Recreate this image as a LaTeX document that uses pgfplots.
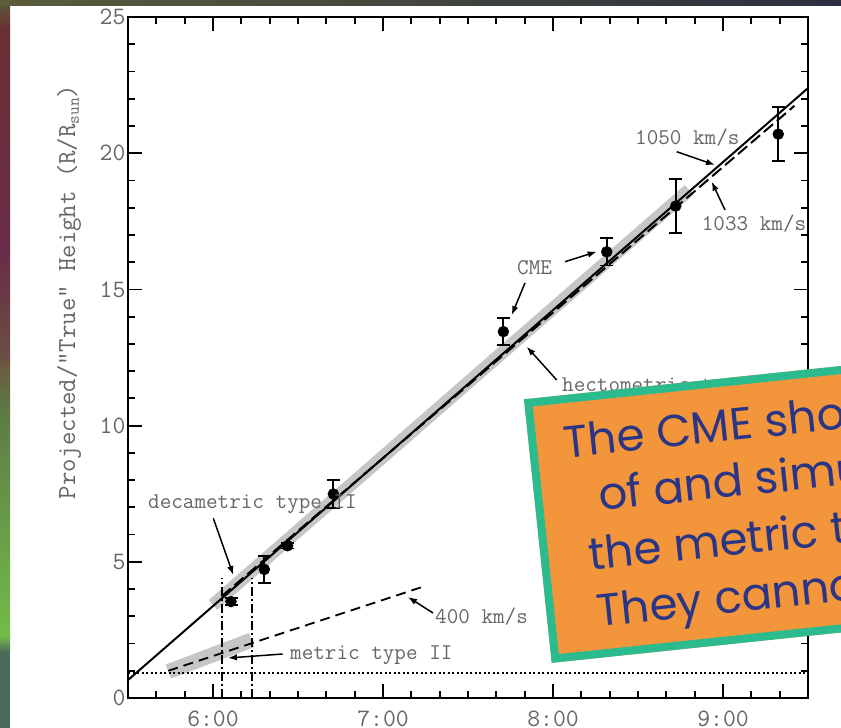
\documentclass[border=0pt]{standalone}
\usepackage{fontspec}
\usepackage{pgfplots}
\pgfplotsset{compat=1.18}
\usetikzlibrary{arrows.meta}
\newfontfamily\boxfont{Poppins}
\newcommand\annfont{\fontsize{22.5bp}{26bp}\selectfont\ttfamily}
\newcommand\tickfont{\fontsize{25bp}{28bp}\selectfont\ttfamily}
\newcommand\ylabfont{\fontsize{26bp}{30bp}\selectfont\ttfamily}
\definecolor{boxorange}{HTML}{F3953A}
\definecolor{boxteal}{HTML}{2BBB8F}
\definecolor{boxtext}{HTML}{2A3586}
\definecolor{bandgray}{HTML}{C6C6C6}
\definecolor{labgray}{HTML}{666666}
\definecolor{sA}{RGB}{92,92,58}
\definecolor{sB}{RGB}{107,48,54}
\definecolor{sC}{RGB}{106,44,72}
\definecolor{sD}{RGB}{106,80,68}
\definecolor{sE}{RGB}{106,88,64}
\definecolor{sF}{RGB}{94,122,69}
\definecolor{sG}{RGB}{114,188,74}
\definecolor{sH}{RGB}{74,106,90}
\definecolor{tA}{RGB}{90,92,60}
\definecolor{tB}{RGB}{46,36,64}
\definecolor{tC}{RGB}{42,48,64}
\begin{document}
\begin{tikzpicture}[x=1bp,y=1bp]
\begin{scope}
\clip (0,0) rectangle (841,-728);
% background
\fill[white] (0,0) rectangle (841,-728);
\shade[top color=sA, bottom color=sB] (0,0) rectangle (10,-28);
\shade[top color=sB, bottom color=sC] (0,-28) rectangle (10,-250);
\shade[top color=sC, bottom color=sD] (0,-250) rectangle (10,-362);
\shade[top color=sE, bottom color=sF] (0,-362) rectangle (10,-410);
\shade[top color=sF, bottom color=sG] (0,-410) rectangle (10,-636);
\shade[top color=sG, bottom color=sH] (0,-636) rectangle (10,-652);
\fill[sH] (0,-652) rectangle (10,-728);
\shade[left color=tA, middle color=tB, right color=tC] (0,0) rectangle (841,-6);

\begin{axis}[
  at={(128bp,-698bp)}, anchor=south west, scale only axis,
  width=680bp, height=681bp,
  xmin=5.5, xmax=9.5, ymin=0, ymax=25,
  xtick={6,7,8,9}, xticklabels={6:00,7:00,8:00,9:00},
  minor xtick={5.6667,5.8333,6.1667,6.3333,6.5,6.6667,6.8333,7.1667,7.3333,7.5,7.6667,7.8333,8.1667,8.3333,8.5,8.6667,8.8333,9.1667,9.3333},
  ytick={0,5,10,15,20,25}, yticklabels={0,5,10,15,20,25},
  minor ytick={1,2,3,4,6,7,8,9,11,12,13,14,16,17,18,19,21,22,23,24},
  major tick length=14bp, minor tick length=7bp,
  axis line style={line width=1.8bp},
  tick style={black, line width=1.8bp},
  ticklabel style={font=\tickfont, text=labgray},
  xticklabel style={yshift=-9bp},
  yticklabel style={xshift=1bp},
]
% gray bands
\addplot[bandgray, line width=13bp, forget plot] coordinates {(6.0,3.42) (8.80,18.65)};
\addplot[bandgray, line width=15bp, forget plot] coordinates {(5.737,0.97) (6.228,2.13)};
% lines
\addplot[black, line width=2bp] coordinates {(5.5,0.66) (9.5,22.39)};
\addplot[black, line width=2bp, dash pattern=on 12bp off 5bp] coordinates {(6.05,3.73) (9.42,21.74)};
\addplot[black, line width=1.8bp, dash pattern=on 10bp off 6bp] coordinates {(5.737,1.0) (7.247,4.11)};
\addplot[black, line width=1.6bp, dash pattern=on 2bp off 2.5bp] coordinates {(5.5,0.92) (9.5,0.92)};
\addplot[black, line width=1.6bp, dash pattern=on 9bp off 3bp on 2bp off 3bp] coordinates {(6.054,0) (6.054,4.4)};
\addplot[black, line width=1.6bp, dash pattern=on 9bp off 3bp on 2bp off 3bp] coordinates {(6.23,0) (6.23,4.4)};
% CME points
\addplot[only marks, mark=*, mark size=5.5bp, black,
  error bars/.cd, y dir=both, y explicit,
  error mark=-,
  error bar style={line width=1.8bp, black},
  error mark options={rotate=90, line width=1.8bp, mark size=6.5bp, black}]
  table[x=x, y=y, y error=e] {
x y e
6.106 3.54 0.12
6.302 4.72 0.49
6.439 5.59 0.10
6.708 7.49 0.50
7.708 13.45 0.50
8.316 16.38 0.50
8.722 18.06 1.00
9.325 20.70 1.00
};
\end{axis}

% y label
\node[rotate=90, anchor=base, inner sep=0, font=\ylabfont, text=labgray] at (75,-292)
  {Projected/"True" Height (R/R\raisebox{-0.35ex}{\fontsize{17bp}{17bp}\selectfont sun})};

% annotations
\tikzset{ann/.style={anchor=base west, inner sep=0, text=labgray, font=\annfont},
         arr/.style={line width=1.5bp, -{Latex[length=9bp,width=6.5bp]}}}
\node[ann] at (148,-508) {decametric type II};
\draw[arr] (213.3,-518.3) -- (233.3,-575);
\node[ann] at (290,-659) {metric type II};
\draw[arr] (282.7,-654) -- (228,-658);
\node[ann] at (435,-623) {400 km/s};
\draw[arr] (433,-613) -- (408,-597);
\node[ann] at (517,-274) {CME};
\draw[arr] (525,-283) -- (511.7,-315);
\draw[arr] (565,-261.7) -- (596.7,-251.7);
\node[ann] at (562,-391) {hectometric type II};
\draw[arr] (556.7,-380) -- (526.7,-346.7);
\node[ann] at (635,-145) {1050 km/s};
\draw[arr] (676.7,-151.7) -- (715,-165);
\node[ann] at (701.7,-230.5) {1033 km/s};
\draw[arr] (725,-210) -- (711.7,-181.7);

% overlay box
\begin{scope}[shift={(524,-399.3)}, rotate=6]
\fill[boxorange] (0,0) rectangle (430,-265);
\draw[boxteal, line width=8bp] (4,-4) rectangle (430,-261);
\tikzset{bx/.style={anchor=base west, inner sep=0, rotate=6, text=boxtext, font=\boxfont\fontsize{45bp}{54bp}\selectfont}}
\node[bx] at (35,-63) {The CME shock is};
\node[bx] at (64,-119) {of and simultaneous};
\node[bx] at (48,-177) {the metric type II.};
\node[bx] at (50,-234) {They cannot be};
\end{scope}
\end{scope}
\pgfresetboundingbox
\path[use as bounding box] (0,0) rectangle (841,-728);
\end{tikzpicture}
\end{document}
